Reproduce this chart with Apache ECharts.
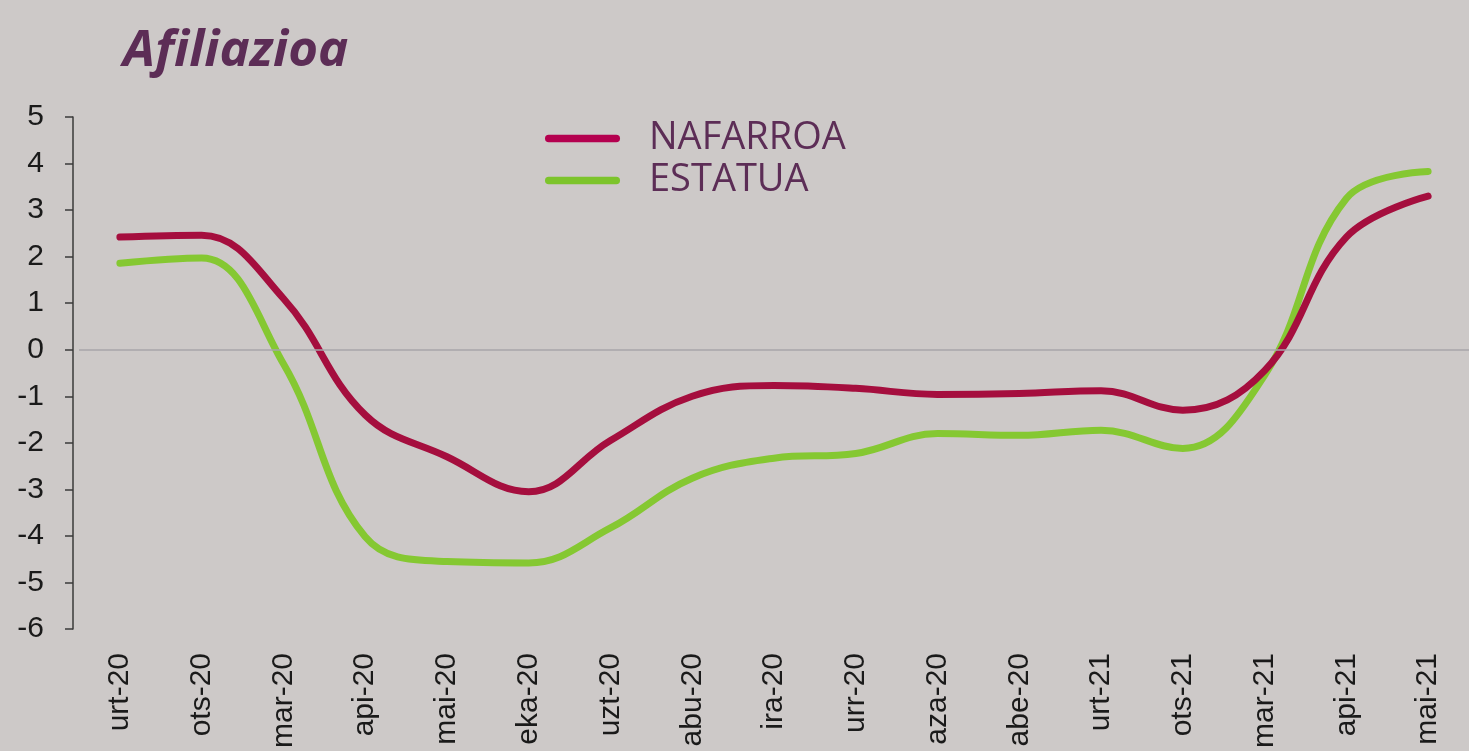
<!DOCTYPE html>
<html>
<head>
<meta charset="utf-8">
<title>Afiliazioa</title>
<script src="https://cdn.jsdelivr.net/npm/echarts@6/dist/echarts.min.js"></script>
<style>
	html, body { margin: 0; padding: 0; background: #cdc9c8; }
	#main { width: 1469px; height: 751px; }
</style>
</head>
<body>
<div id="main"></div>
<script>
// hilabeteak (urt-20 .. mai-21)
var months = ['urt-20', 'ots-20', 'mar-20', 'api-20', 'mai-20', 'eka-20', 'uzt-20', 'abu-20', 'ira-20',
	'urr-20', 'aza-20', 'abe-20', 'urt-21', 'ots-21', 'mar-21', 'api-21', 'mai-21'];
var nafarroa = [2.42, 2.46, 1.1, -1.4, -2.3, -3.05, -1.95, -1.0, -0.77, -0.83, -0.96, -0.94, -0.88, -1.3, -0.45, 2.42, 3.3];
var estatua = [1.86, 1.97, -0.3, -4.02, -4.55, -4.58, -3.83, -2.76, -2.33, -2.23, -1.8, -1.84, -1.73, -2.12, -0.55, 3.25, 3.83];
var yMin = -6, yMax = 5, yStep = 1;

var purple = '#5c2d56';
var axisFont = '"Liberation Sans", Arial, sans-serif';
var capsule = 'path://M5,0 L95,0 A5,5 0 0 1 95,10 L5,10 A5,5 0 0 1 5,0 Z';

var myChart = echarts.init(document.getElementById('main'));
var option = {
	backgroundColor: '#cdc9c8',
	animation: false,
	title: {
		text: 'Afiliazioa',
		left: 118,
		top: 21,
		textStyle: {
			color: purple,
			fontFamily: '"Open Sans", sans-serif',
			fontStyle: 'italic',
			fontWeight: 'bold',
			fontSize: 51
		}
	},
	legend: {
		orient: 'vertical',
		left: 540,
		top: 114,
		itemWidth: 75,
		itemHeight: 11,
		itemGap: 3,
		textStyle: {
			color: purple,
			fontFamily: '"Open Sans", sans-serif',
			fontSize: 38,
			lineHeight: 39,
			padding: [0, 0, 0, 24]
		},
		data: [
			{ name: 'NAFARROA', icon: capsule, itemStyle: { color: '#b4004f' } },
			{ name: 'ESTATUA', icon: capsule, itemStyle: { color: '#7dc42c' } }
		]
	},
	grid: {
		left: 79,
		top: 117,
		width: 1398,
		bottom: 119
	},
	xAxis: {
		type: 'category',
		data: months,
		boundaryGap: true,
		axisLine: { show: false },
		axisTick: { show: false },
		splitLine: { show: false },
		axisLabel: {
			rotate: 90,
			margin: 24,
			interval: 0,
			color: '#1a1a1a',
			fontFamily: axisFont,
			fontSize: 30
		}
	},
	yAxis: {
		type: 'value',
		min: yMin,
		max: yMax,
		interval: yStep,
		offset: 6,
		splitLine: { show: false },
		axisLine: {
			show: true,
			lineStyle: { color: '#3a3a3a', width: 1.5 }
		},
		axisTick: {
			show: true,
			length: 8,
			lineStyle: { color: '#3a3a3a', width: 1.5 }
		},
		axisLabel: {
			margin: 29,
			color: '#1a1a1a',
			fontFamily: axisFont,
			fontSize: 30
		}
	},
	series: [{
		name: 'NAFARROA',
		type: 'line',
		data: nafarroa,
		smooth: 0.4,
		symbol: 'none',
		z: 3,
		lineStyle: { color: '#a50e3e', width: 7, cap: 'round' },
		itemStyle: { color: '#a50e3e' },
		markLine: {
			silent: true,
			symbol: 'none',
			label: { show: false },
			lineStyle: { color: '#a7a5aa', width: 1.5, type: 'solid' },
			data: [{ yAxis: 0 }]
		}
	}, {
		name: 'ESTATUA',
		type: 'line',
		data: estatua,
		smooth: 0.4,
		symbol: 'none',
		z: 2,
		lineStyle: { color: '#85c832', width: 7, cap: 'round' },
		itemStyle: { color: '#85c832' }
	}]
};
myChart.setOption(option);
</script>
</body>
</html>
